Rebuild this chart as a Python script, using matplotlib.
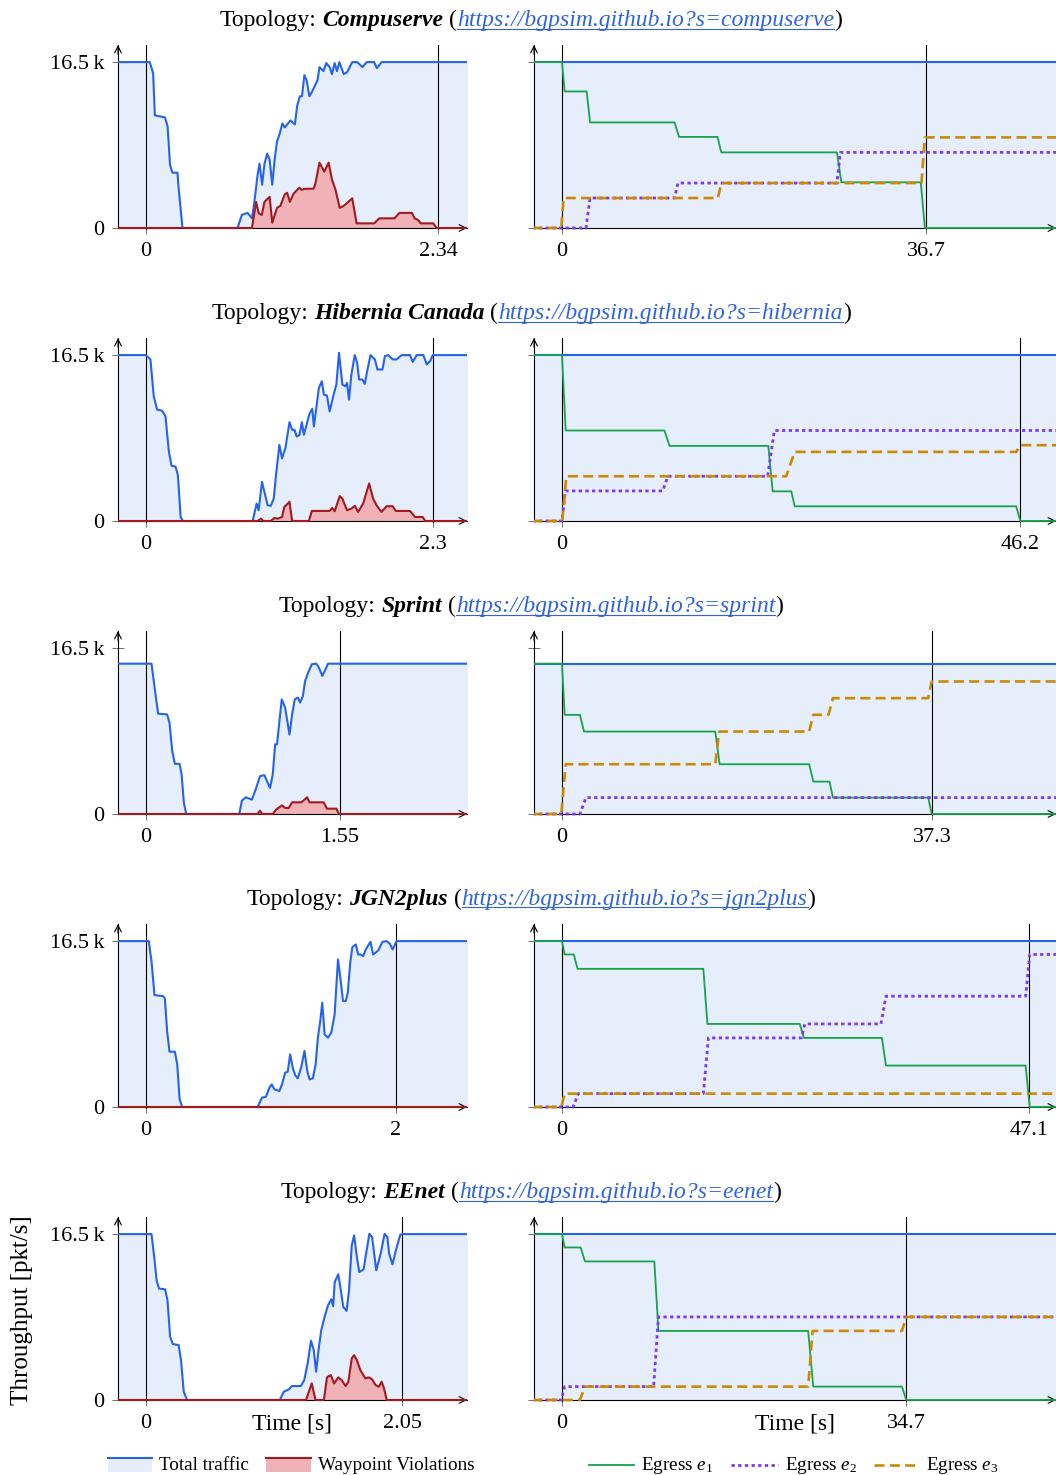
import matplotlib
matplotlib.use('Agg')
import matplotlib.pyplot as plt
from matplotlib.lines import Line2D
from matplotlib.patches import Rectangle

plt.rcParams['font.family'] = ['Liberation Serif', 'DejaVu Serif']
plt.rcParams['mathtext.fontset'] = 'custom'
plt.rcParams['mathtext.rm'] = 'Liberation Serif'
plt.rcParams['mathtext.it'] = 'Liberation Serif:italic'

# ---------------- data (throughput in k pkt/s, time in s) ----------------
topologies = ['Compuserve', 'Hibernia Canada', 'Sprint', 'JGN2plus', 'EEnet']
slugs = ['compuserve', 'hibernia', 'sprint', 'jgn2plus', 'eenet']
conv_left = [2.34, 2.3, 1.55, 2, 2.05]
conv_left_labels = ['2.34', '2.3', '1.55', '2', '2.05']
conv_right = [36.7, 46.2, 37.3, 47.1, 34.7]
total_rate = [16.5, 16.5, 14.95, 16.5, 16.5]

# Compuserve
cs_total = [(-0.23, 16.5), (0.032, 16.5), (0.059, 15.4), (0.073, 11.2), (0.154, 11.0), (0.175, 10.1),
            (0.194, 6.3), (0.213, 5.5), (0.254, 5.5), (0.262, 4.1), (0.294, 0), (0.734, 0), (0.769, 1.3),
            (0.815, 1.5), (0.85, 0.96), (0.869, 2.6), (0.896, 5.4), (0.91, 6.4), (0.931, 4.3), (0.95, 6.4),
            (0.972, 7.4), (0.991, 6.8), (1.012, 4.3), (1.031, 6.8), (1.05, 8.6), (1.072, 9.4), (1.093, 10.4),
            (1.112, 10.0), (1.158, 10.7), (1.193, 10.3), (1.212, 12.2), (1.233, 13.1), (1.25, 13.1),
            (1.269, 15.2), (1.287, 14.7), (1.309, 13.1), (1.328, 13.5), (1.355, 14.2), (1.374, 14.7),
            (1.39, 16.0), (1.422, 15.6), (1.444, 16.4), (1.471, 16.0), (1.49, 15.3), (1.511, 16.4),
            (1.53, 15.6), (1.549, 16.5), (1.584, 15.3), (1.611, 15.5), (1.652, 16.5), (1.692, 16.5),
            (1.733, 16.0), (1.768, 16.5), (1.827, 16.5), (1.849, 15.9), (1.887, 16.5), (2.6, 16.5)]
cs_viol = [(-0.23, 0), (0.85, 0), (0.883, 2.6), (0.904, 1.46), (0.928, 1.3), (0.95, 2.6), (0.991, 3.1),
           (1.012, 0.53), (1.05, 2.0), (1.077, 2.2), (1.112, 3.35), (1.131, 3.5), (1.153, 2.6), (1.185, 3.45),
           (1.228, 4.0), (1.247, 3.8), (1.274, 3.9), (1.341, 3.9), (1.355, 4.3), (1.39, 6.5), (1.428, 5.6),
           (1.463, 6.5), (1.49, 4.8), (1.517, 3.85), (1.552, 2.0), (1.584, 2.2), (1.652, 2.95), (1.687, 0.46),
           (1.827, 0.46), (1.868, 0.96), (1.989, 0.96), (2.03, 1.5), (2.13, 1.5), (2.151, 0.96), (2.178, 0.8),
           (2.2, 0.46), (2.3, 0.46), (2.327, 0), (2.6, 0)]
cs_e1 = [(-3, 16.5), (0, 16.5), (0.27, 13.58), (2.49, 13.58), (2.83, 10.5), (11.35, 10.5), (11.8, 9.06),
         (15.68, 9.06), (16.06, 7.52), (27.72, 7.52), (28.16, 4.54), (36.17, 4.54), (36.58, 0), (51, 0)]
cs_e2 = [(-3, 0), (2.42, 0), (2.83, 2.98), (11.35, 2.98), (11.69, 4.47), (27.72, 4.47), (28.06, 7.52),
         (51, 7.52)]
cs_e3 = [(-3, 0), (-0.07, 0), (0.17, 2.98), (15.72, 2.98), (16.06, 4.47), (36.24, 4.47), (36.58, 9.01),
         (51, 9.01)]

# Hibernia Canada
hb_total = [(-0.23, 16.5), (0.0, 16.5), (0.0375, 16.07), (0.064, 12.4), (0.091, 11.07), (0.131, 10.97),
            (0.158, 10.4), (0.185, 6.9), (0.206, 5.5), (0.238, 5.4), (0.257, 4.57), (0.279, 0.4), (0.297, 0),
            (0.855, 0), (0.887, 1.73), (0.903, 1.07), (0.93, 3.9), (0.949, 2.9), (0.975, 1.57), (1.0, 1.5),
            (1.024, 2.23), (1.042, 4.57), (1.069, 7.57), (1.09, 6.23), (1.117, 7.23), (1.15, 9.83),
            (1.171, 9.07), (1.19, 9.07), (1.208, 8.4), (1.23, 8.57), (1.249, 9.83), (1.265, 8.57),
            (1.31, 10.67), (1.332, 11.17), (1.345, 9.4), (1.385, 13.23), (1.409, 13.9), (1.425, 12.57),
            (1.45, 12.47), (1.471, 10.9), (1.503, 12.57), (1.525, 13.57), (1.546, 16.73), (1.573, 13.57),
            (1.597, 13.4), (1.61, 13.73), (1.626, 12.07), (1.645, 14.57), (1.672, 16.5), (1.691, 15.73),
            (1.707, 14.07), (1.734, 14.07), (1.752, 13.63), (1.774, 15.07), (1.798, 16.5), (1.833, 16.07),
            (1.854, 15.07), (1.894, 15.07), (1.913, 16.4), (1.94, 16.5), (1.975, 16.07), (2.007, 16.07),
            (2.047, 16.5), (2.114, 16.5), (2.136, 15.83), (2.168, 16.5), (2.221, 16.5), (2.248, 15.57),
            (2.275, 15.9), (2.296, 16.5), (2.6, 16.5)]
hb_viol = [(-0.23, 0), (0.895, 0), (0.922, 0.23), (0.94, 0), (1.0, 0), (1.029, 0.3), (1.056, 0.23),
           (1.09, 0.4), (1.109, 1.4), (1.15, 1.9), (1.171, 0), (1.305, 0), (1.329, 1.0), (1.471, 1.0),
           (1.492, 1.3), (1.511, 0.97), (1.552, 2.47), (1.573, 2.23), (1.61, 1.07), (1.645, 1.23),
           (1.672, 1.5), (1.699, 0.9), (1.739, 1.73), (1.787, 3.73), (1.819, 2.23), (1.846, 1.57),
           (1.886, 0.9), (1.927, 1.47), (1.975, 1.47), (2.0, 1.0), (2.114, 1.0), (2.154, 0.4), (2.216, 0.4),
           (2.235, 0), (2.6, 0)]
hb_e1 = [(-3, 16.5), (0, 16.5), (0.375, 9.0), (10.33, 9.0), (10.84, 7.47), (20.8, 7.47), (21.24, 2.95),
         (23.12, 2.95), (23.46, 1.46), (45.79, 1.46), (46.2, 0), (51, 0)]
hb_e2 = [(-3, 0), (0, 0), (0.34, 2.99), (10.16, 2.99), (10.67, 4.45), (20.73, 4.45), (21.41, 9.0), (51, 9.0)]
hb_e3 = [(-3, 0), (0.03, 0), (0.44, 4.45), (22.6, 4.45), (23.46, 6.87), (45.79, 6.87), (46.2, 7.54),
         (51, 7.54)]

# Sprint
sp_total = [(-0.23, 14.95), (0.046, 14.95), (0.078, 11.9), (0.099, 9.98), (0.171, 9.9), (0.19, 9.08),
            (0.212, 6.25), (0.233, 4.99), (0.271, 4.99), (0.287, 3.93), (0.305, 1.1), (0.324, 0), (0.748, 0),
            (0.769, 1.33), (0.801, 1.66), (0.849, 1.43), (0.882, 2.53), (0.914, 3.76), (0.949, 3.86),
            (0.994, 2.59), (1.016, 3.93), (1.035, 6.92), (1.05, 6.92), (1.088, 11.4), (1.115, 10.58),
            (1.15, 7.9), (1.171, 9.91), (1.192, 11.4), (1.217, 11.58), (1.235, 11.08), (1.257, 11.74),
            (1.275, 13.24), (1.305, 14.24), (1.329, 14.9), (1.364, 14.95), (1.385, 14.57), (1.412, 13.74),
            (1.439, 14.4), (1.458, 14.95), (2.6, 14.95)]
sp_viol = [(-0.23, 0), (0.895, 0), (0.914, 0.33), (0.93, 0), (1.016, 0), (1.042, 0.43), (1.09, 0.86),
           (1.115, 0.6), (1.144, 0.6), (1.171, 1.16), (1.243, 1.16), (1.262, 1.33), (1.291, 1.66),
           (1.31, 1.16), (1.423, 1.16), (1.45, 0.53), (1.525, 0.53), (1.546, 0), (2.6, 0)]
sp_e1 = [(-3, 14.95), (0, 14.95), (0.27, 9.86), (1.81, 9.86), (2.22, 8.2), (15.45, 8.2), (15.89, 4.95),
         (24.92, 4.95), (25.33, 3.22), (26.97, 3.22), (27.31, 1.63), (36.92, 1.63), (37.27, 0), (51, 0)]
sp_e2 = [(-3, 0), (1.81, 0), (2.42, 1.63), (51, 1.63)]
sp_e3 = [(-3, 0), (-0.07, 0), (0.375, 4.95), (15.45, 4.95), (15.85, 8.2), (24.92, 8.2), (25.33, 9.86),
         (26.87, 9.86), (27.31, 11.52), (36.92, 11.52), (37.27, 13.18), (51, 13.18)]

# JGN2plus
jg_total = [(-0.23, 16.5), (0.024, 16.5), (0.046, 14.5), (0.07, 11.13), (0.137, 11.03), (0.153, 10.8),
            (0.171, 7.55), (0.19, 5.5), (0.233, 5.5), (0.252, 4.24), (0.271, 0.76), (0.292, 0), (0.895, 0),
            (0.93, 0.93), (0.962, 1.03), (0.989, 1.92), (1.008, 2.25), (1.029, 1.76), (1.069, 1.59),
            (1.09, 2.25), (1.115, 3.41), (1.136, 3.51), (1.155, 5.23), (1.176, 3.91), (1.195, 3.18),
            (1.216, 2.85), (1.243, 3.91), (1.27, 5.57), (1.292, 3.58), (1.31, 2.75), (1.337, 2.85),
            (1.359, 4.24), (1.377, 6.89), (1.396, 8.55), (1.412, 10.37), (1.431, 7.22), (1.458, 6.89),
            (1.484, 7.39), (1.511, 9.21), (1.538, 14.68), (1.56, 12.52), (1.578, 10.54), (1.6, 10.54),
            (1.616, 11.36), (1.637, 14.51), (1.653, 15.9), (1.68, 16.17), (1.699, 15.17), (1.718, 15.17),
            (1.739, 15.01), (1.76, 15.67), (1.798, 16.43), (1.819, 15.17), (1.86, 15.57), (1.894, 16.43),
            (1.927, 16.5), (1.953, 16.23), (1.975, 15.67), (2.007, 16.5), (2.6, 16.5)]
jg_viol = [(-0.23, 0), (2.6, 0)]
jg_e1 = [(-3, 16.5), (0, 16.5), (0.27, 15.17), (1.19, 15.17), (1.57, 13.74), (14.25, 13.74), (14.66, 8.26),
         (23.97, 8.26), (24.38, 6.87), (32.25, 6.87), (32.66, 4.12), (46.74, 4.12), (47.15, 0), (51, 0)]
jg_e2 = [(-3, 0), (1.13, 0), (1.64, 1.33), (14.25, 1.33), (14.76, 6.87), (24.14, 6.87), (24.48, 8.26),
         (32.15, 8.26), (32.66, 11.02), (46.74, 11.02), (47.15, 15.17), (51, 15.17)]
jg_e3 = [(-3, 0), (-0.07, 0), (0.27, 1.33), (51, 1.33)]

# EEnet
ee_total = [(-0.23, 16.5), (0.046, 16.5), (0.068, 14.2), (0.087, 11.9), (0.106, 11.08), (0.155, 11.01),
            (0.174, 9.92), (0.195, 6.28), (0.217, 5.56), (0.263, 5.46), (0.282, 3.97), (0.304, 0.83),
            (0.331, 0), (1.072, 0), (1.105, 0.83), (1.146, 1.06), (1.168, 1.39), (1.241, 1.39), (1.268, 1.98),
            (1.295, 3.64), (1.322, 5.89), (1.344, 4.96), (1.363, 2.81), (1.382, 4.96), (1.404, 6.94),
            (1.431, 8.27), (1.458, 9.42), (1.485, 10.02), (1.499, 9.32), (1.512, 11.74), (1.54, 12.5),
            (1.561, 10.91), (1.58, 9.26), (1.607, 8.86), (1.626, 10.91), (1.648, 15.38), (1.667, 16.37),
            (1.689, 14.22), (1.708, 12.73), (1.743, 13.0), (1.765, 14.72), (1.789, 16.53), (1.811, 16.2),
            (1.844, 12.9), (1.879, 14.55), (1.911, 16.53), (1.933, 16.2), (1.947, 14.55), (1.974, 13.49),
            (2.001, 14.88), (2.036, 16.43), (2.055, 16.5), (2.6, 16.5)]
ee_viol = [(-0.23, 0), (1.282, 0), (1.328, 1.65), (1.358, 0), (1.425, 0), (1.45, 2.25), (1.48, 2.48),
           (1.507, 1.65), (1.54, 2.25), (1.567, 1.98), (1.599, 1.39), (1.621, 1.82), (1.648, 4.13),
           (1.667, 4.46), (1.689, 3.97), (1.716, 2.98), (1.757, 2.15), (1.784, 2.25), (1.811, 2.05),
           (1.838, 1.49), (1.865, 1.32), (1.887, 1.82), (1.906, 1.16), (1.928, 0), (2.6, 0)]
ee_e1 = [(-3, 16.5), (0, 16.5), (0.27, 15.17), (1.88, 15.17), (2.32, 13.78), (9.31, 13.78), (9.72, 6.87),
         (24.82, 6.87), (25.33, 1.33), (34.27, 1.33), (34.71, 0), (51, 0)]
ee_e2 = [(-3, 0), (-0.07, 0), (0.27, 1.33), (9.24, 1.33), (9.72, 8.26), (51, 8.26)]
ee_e3 = [(-3, 0), (1.81, 0), (2.32, 1.33), (24.82, 1.33), (25.26, 6.87), (34.27, 6.87), (34.71, 8.26),
         (51, 8.26)]

left_total = [cs_total, hb_total, sp_total, jg_total, ee_total]
left_viol = [cs_viol, hb_viol, sp_viol, jg_viol, ee_viol]
egress1 = [cs_e1, hb_e1, sp_e1, jg_e1, ee_e1]
egress2 = [cs_e2, hb_e2, sp_e2, jg_e2, ee_e2]
egress3 = [cs_e3, hb_e3, sp_e3, jg_e3, ee_e3]

# ---------------- style ----------------
BLUE = '#2563eb'
BLUE_FILL = '#e6edfb'
RED = '#a11a1f'
RED_FILL = '#f0b2b6'
GREEN = '#16a34a'
PURPLE = '#7c3aed'
ORANGE = '#ca8a04'
LINK = '#2f63e0'
DOTS = (1.2, 1.2)
DASHES = (3.8, 2.0)

FIG_W, FIG_H = 1056, 1475
TICK_SIZE = 16
TICK_PAD = 6
YMAX = 18.2
LEFT_XLIM = (-0.222, 2.57)
RIGHT_XLIM = (-2.82, 49.8)

fig = plt.figure(figsize=(FIG_W / 100, FIG_H / 100), dpi=100)
renderer = fig.canvas.get_renderer()


def fx(x):
    return x / FIG_W


def fy(y):
    return 1 - y / FIG_H


def unzip(pts):
    return [p[0] for p in pts], [p[1] for p in pts]


def style_axes(ax, xlim, xticks, xlabels, ylabels):
    ax.set_xlim(*xlim)
    ax.set_ylim(-0.2, YMAX)
    for s in ('top', 'right'):
        ax.spines[s].set_visible(False)
    ax.spines['bottom'].set_position(('data', 0))
    ax.spines['left'].set_bounds(0, YMAX)
    for s in ('bottom', 'left'):
        ax.spines[s].set_linewidth(0.8)
    ax.set_xticks(xticks, xlabels)
    ax.set_yticks([0, 16.5], ylabels)
    ax.tick_params(direction='inout', length=8, width=0.6, color='0.35', pad=TICK_PAD, labelsize=TICK_SIZE)
    arrow = dict(arrowstyle='->', lw=0.8, color='black', shrinkA=0, shrinkB=0, mutation_scale=12)
    ax.annotate('', xy=(0, 1), xycoords='axes fraction', xytext=(0, 0.95), arrowprops=arrow,
                annotation_clip=False)
    ax.annotate('', xy=(1, 0), xycoords=('axes fraction', 'data'), xytext=(0.97, 0),
                textcoords=('axes fraction', 'data'), arrowprops=arrow, annotation_clip=False)


def text_width(s, size, **kw):
    t = fig.text(0, 0, s, size=size, **kw)
    w = t.get_window_extent(renderer).width
    t.remove()
    return w


def draw_title(name, slug, baseline):
    size = 17
    url = 'https://bgpsim.github.io?s=' + slug
    space = text_width('x x', size) - text_width('xx', size)
    pieces = [('Topology:', {}, space), (name, dict(weight='bold', style='italic'), space),
              ('(', {}, 0), (url, dict(style='italic', color=LINK), 0), (')', {}, 0)]
    widths = [text_width(s, size, **kw) for s, kw, _ in pieces]
    total = sum(widths) + sum(g for _, _, g in pieces[:-1])
    x = 531 - total / 2
    for (s, kw, gap), w in zip(pieces, widths):
        fig.text(fx(x), fy(baseline), s, size=size, va='baseline', **kw)
        if s == url:
            fig.add_artist(Line2D([fx(x), fx(x + w)], [fy(baseline + 2.5)] * 2, color=LINK, lw=0.8))
        x += w + gap


for i in range(5):
    y0 = 228 + 293 * i
    top, bot = y0 - 183, y0 + 2

    # left: total traffic and waypoint violations
    axl = fig.add_axes([fx(118), fy(bot), fx(467 - 118), (bot - top) / FIG_H])
    t, v = unzip(left_total[i])
    axl.fill_between(t, v, 0, color=BLUE_FILL, lw=0, zorder=1)
    tr, vr = unzip(left_viol[i])
    axl.fill_between(tr, vr, 0, color=RED_FILL, lw=0, zorder=1.5)
    axl.axvline(0, color='black', lw=0.8, zorder=2)
    axl.axvline(conv_left[i], color='black', lw=0.8, zorder=2)
    axl.plot(t, v, color=BLUE, lw=1.5, zorder=3)
    axl.plot(tr, vr, color=RED, lw=1.5, zorder=4)
    style_axes(axl, LEFT_XLIM, [0, conv_left[i]], ['0', conv_left_labels[i]], ['0', '16.5\u2009k'])

    # right: per-egress traffic
    axr = fig.add_axes([fx(534), fy(bot), fx(1056 - 534), (bot - top) / FIG_H])
    axr.fill_between(RIGHT_XLIM, [total_rate[i]] * 2, 0, color=BLUE_FILL, lw=0, zorder=1)
    axr.axvline(0, color='black', lw=0.8, zorder=2)
    axr.axvline(conv_right[i], color='black', lw=0.8, zorder=2)
    axr.plot(RIGHT_XLIM, [total_rate[i]] * 2, color=BLUE, lw=1.5, zorder=3)
    t1, v1 = unzip(egress1[i])
    axr.plot(t1, v1, color=GREEN, lw=1.3, zorder=4)
    t2, v2 = unzip(egress2[i])
    axr.plot(t2, v2, color=PURPLE, lw=2.0, dashes=DOTS, zorder=5)
    t3, v3 = unzip(egress3[i])
    axr.plot(t3, v3, color=ORANGE, lw=1.9, dashes=DASHES, zorder=6)
    style_axes(axr, RIGHT_XLIM, [0, conv_right[i]], ['0', f'{conv_right[i]:g}'], [])

    draw_title(topologies[i], slugs[i], 26 + 293 * i)

    if i == 4:
        for ax in (axl, axr):
            ax.annotate('Time [s]', xy=(0.5, 0), xycoords=('axes fraction', 'data'),
                        xytext=(0, -(TICK_PAD + 4)), textcoords='offset points', ha='center', va='top',
                        size=17)

fig.text(fx(22), fy(1310), 'Throughput [pkt/s]', rotation=90, ha='center', va='center', size=18)

# legend
LEG_Y = 1465
LEG_SIZE = 13.8
for x0, x1, fill, line, label in [(108, 152, BLUE_FILL, BLUE, 'Total traffic'),
                                  (266, 311, RED_FILL, RED, 'Waypoint Violations')]:
    fig.add_artist(Rectangle((fx(x0), fy(1472)), fx(x1 - x0), 14 / FIG_H, facecolor=fill, lw=0))
    fig.add_artist(Line2D([fx(x0), fx(x1)], [fy(1458)] * 2, color=line, lw=1.5))
    fig.text(fx(x1 + 7), fy(LEG_Y), label, size=LEG_SIZE, va='center')

for x0, x1, color, lw, dashes, label in [(589, 634, GREEN, 1.3, None, 'Egress $e_1$'),
                                         (731, 778, PURPLE, 2.0, DOTS, 'Egress $e_2$'),
                                         (874, 919, ORANGE, 1.9, DASHES, 'Egress $e_3$')]:
    ln = Line2D([fx(x0), fx(x1)], [fy(LEG_Y)] * 2, color=color, lw=lw)
    if dashes:
        ln.set_dashes(dashes)
    fig.add_artist(ln)
    fig.text(fx(x1 + 7), fy(LEG_Y), label, size=LEG_SIZE, va='center')

fig.savefig('out.png', dpi=100)
